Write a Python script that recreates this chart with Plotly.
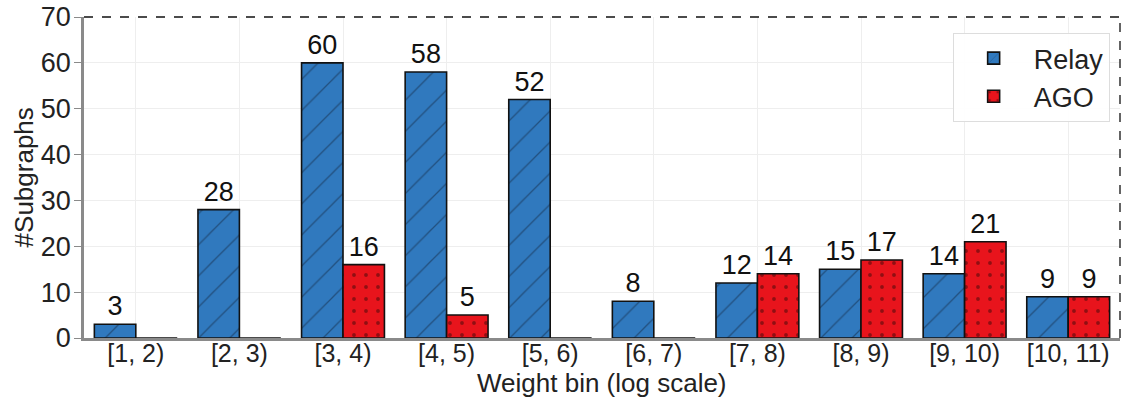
import plotly.graph_objects as go

categories = ["[1, 2)", "[2, 3)", "[3, 4)", "[4, 5)", "[5, 6)", "[6, 7)", "[7, 8)", "[8, 9)", "[9, 10)", "[10, 11)"]
relay = [3, 28, 60, 58, 52, 8, 12, 15, 14, 9]
ago = [0, 0, 16, 5, 0, 0, 14, 17, 21, 9]
y_ticks = [0, 10, 20, 30, 40, 50, 60, 70]

FONT = "Liberation Sans, Arial, Helvetica, sans-serif"

def labels(vals):
    return [str(v) if v > 0 else "" for v in vals]

fig = go.Figure()
fig.add_trace(go.Bar(
    name="Relay", x=categories, y=relay, text=labels(relay),
    textposition="outside", cliponaxis=False,
    textfont=dict(size=27, color="#111111", family=FONT),
    marker=dict(color="#3079be", line=dict(color="#111111", width=1.6),
                pattern=dict(shape="/", fgcolor="#14283f", size=22, solidity=0.06, fillmode="overlay")),
))
fig.add_trace(go.Bar(
    name="AGO", x=categories, y=ago, text=labels(ago),
    textposition="outside", cliponaxis=False,
    textfont=dict(size=27, color="#111111", family=FONT),
    marker=dict(color="#e8141c", line=dict(color="#111111", width=1.6),
                pattern=dict(shape=".", fgcolor="#3a0808", size=12, solidity=0.08, fillmode="overlay")),
))

fig.update_layout(
    width=1128, height=405,
    margin=dict(l=84, r=8, t=17, b=67, autoexpand=False),
    paper_bgcolor="white", plot_bgcolor="white",
    barmode="group", bargap=0.2, bargroupgap=0,
    font=dict(family=FONT, size=26, color="#222222"),
    showlegend=True,
    legend=dict(x=0.99, y=0.95, xanchor="right", yanchor="top",
                bgcolor="rgba(255,255,255,0.9)", bordercolor="#dddddd", borderwidth=1,
                font=dict(size=27, family=FONT), itemwidth=70, tracegroupgap=4),
    xaxis=dict(
        range=[-0.5, 9.5], showline=True, linecolor="#8a8a8a", linewidth=2.5,
        showgrid=True, gridcolor="#eeeeee", ticks="", tickfont=dict(size=25),
        automargin=False, ticklabelstandoff=-9,
    ),
    yaxis=dict(
        range=[0, 70], tickvals=y_ticks, showline=True, linecolor="#8a8a8a", linewidth=2.5,
        showgrid=True, gridcolor="#eeeeee", ticks="outside", ticklen=7, tickcolor="#8a8a8a",
        tickfont=dict(size=27), zeroline=False, automargin=False, ticklabelstandoff=-2,
    ),
    annotations=[
        dict(text="Weight bin (log scale)", xref="paper", yref="paper", x=0.5, y=-0.14,
             xanchor="center", yanchor="middle", showarrow=False, font=dict(size=26)),
        dict(text="#Subgraphs", xref="paper", yref="paper", x=-0.058, y=0.5, textangle=-90,
             xanchor="center", yanchor="middle", showarrow=False, font=dict(size=26)),
    ],
)

fig.add_shape(type="line", xref="paper", yref="paper", x0=0, x1=1, y0=1, y1=1,
              line=dict(color="#111111", width=1.3, dash="dash"))
fig.add_shape(type="line", xref="paper", yref="paper", x0=1, x1=1, y0=0, y1=1,
              line=dict(color="#111111", width=1.3, dash="dash"))

fig.write_html("out.html", config={"displayModeBar": False},
               post_script="document.body.style.margin='0';")
